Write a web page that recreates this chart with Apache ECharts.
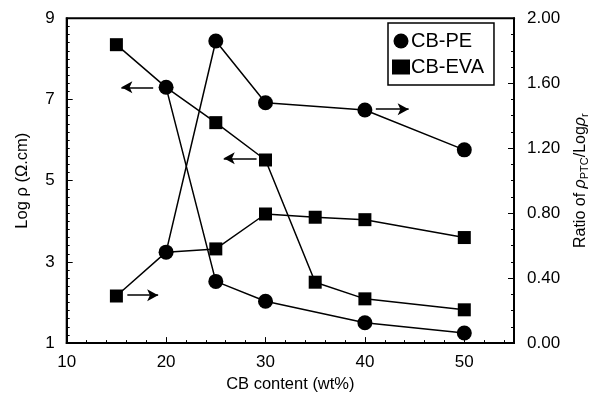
<!DOCTYPE html>
<html><head><meta charset="utf-8">
<script src="https://cdn.jsdelivr.net/npm/echarts@6/dist/echarts.min.js"></script>
<style>html,body{margin:0;padding:0;background:#fff}#c{width:598px;height:398px}</style>
</head><body><div id="c"></div>
<script>
// CB content (wt%)
const pePoints = [20, 25, 30, 40, 50];
const evaPoints = [15, 20, 25, 30, 35, 40, 50];
// Log rho (left axis)
const peLogRho = [7.30, 2.52, 2.03, 1.50, 1.25];
const evaLogRho = [8.35, 7.30, 6.43, 5.51, 2.50, 2.09, 1.82];
// Ratio (right axis)
const peRatio = [0.56, 1.86, 1.48, 1.435, 1.19];
const evaRatio = [0.29, 0.56, 0.58, 0.795, 0.775, 0.76, 0.65];
// Arrow annotations [x from, x to (head), y]
const leftArrows = [[18.7, 15.5, 7.30], [29.1, 25.8, 5.55]];
const rightArrows = [[16.1, 19.2, 0.295], [41.1, 44.4, 1.44]];
const xTicks = {min: 10, max: 55, interval: 10};
const leftTicks = {min: 1, max: 9, interval: 2};
const rightTicks = {min: 0, max: 2, interval: 0.4};

// EVA points that sit under a CB-PE circle are drawn without their own marker
const zipEva = (xs, ys) => xs.map((x, i) => pePoints.includes(x) && (x === 20)
  ? {value: [x, ys[i]], symbol: 'none'} : [x, ys[i]]);
const zip = (xs, ys) => xs.map((x, i) => [x, ys[i]]);
const arrowData = arr => arr.map(a => [{coord: [a[0], a[2]]}, {coord: [a[1], a[2]]}]);
const markLine = arr => ({
  silent: true, symbol: ['none', 'arrow'], symbolSize: [9, 11],
  label: {show: false}, lineStyle: {color: '#000', width: 1.5, type: 'solid'},
  emphasis: {disabled: true}, data: arrowData(arr)
});
const font = 'Arial, "Liberation Sans", sans-serif';
const lineStyle = {color: '#000', width: 1.5};
const axisCommon = {
  axisLine: {show: true, lineStyle: {color: '#000', width: 2}},
  axisTick: {show: true, inside: true, length: 6, lineStyle: {color: '#000', width: 1}},
  minorTick: {show: true, length: 3, lineStyle: {color: '#000', width: 1}},
  splitLine: {show: false},
  axisLabel: {color: '#000', fontSize: 17, fontFamily: font},
  nameTextStyle: {color: '#000', fontSize: 16.5, fontFamily: font},
  nameLocation: 'middle'
};
const chart = echarts.init(document.getElementById('c'), null, {renderer: 'canvas'});
chart.setOption({
  animation: false,
  backgroundColor: '#fff',
  grid: {left: 66.7, right: 81.3, top: 18.3, bottom: 54.7, show: true, borderColor: '#000', borderWidth: 2},
  legend: {
    orient: 'vertical', left: 388, top: 23, width: 110,
    padding: [8, 10, 8, 4], itemGap: 6, itemWidth: 18, itemHeight: 15,
    borderColor: '#000', borderWidth: 1.5, backgroundColor: '#fff',
    textStyle: {color: '#000', fontSize: 20, fontFamily: font, padding: [0, 0, 0, -4]},
    data: [{name: 'CB-PE', icon: 'circle'}, {name: 'CB-EVA', icon: 'rect'}]
  },
  xAxis: Object.assign({}, axisCommon, {
    type: 'value', min: xTicks.min, max: xTicks.max, interval: xTicks.interval,
    minorTick: Object.assign({}, axisCommon.minorTick, {splitNumber: 5}),
    axisLabel: Object.assign({}, axisCommon.axisLabel, {showMaxLabel: false, margin: 11}),
    name: 'CB content (wt%)', nameGap: 31
  }),
  yAxis: [
    Object.assign({}, axisCommon, {
      type: 'value', min: leftTicks.min, max: leftTicks.max, interval: leftTicks.interval,
      minorTick: Object.assign({}, axisCommon.minorTick, {splitNumber: 10}),
      axisLabel: Object.assign({}, axisCommon.axisLabel, {margin: 12}),
      name: 'Log ρ (Ω.cm)', nameGap: 36
    }),
    Object.assign({}, axisCommon, {
      type: 'value', position: 'right', min: rightTicks.min, max: rightTicks.max, interval: rightTicks.interval,
      minorTick: Object.assign({}, axisCommon.minorTick, {splitNumber: 4}),
      axisLabel: Object.assign({}, axisCommon.axisLabel, {margin: 13, formatter: v => v.toFixed(2)}),
      name: '{a|Ratio of }{i|ρ}{s|PTC}{a|/Log}{i|ρ}{s|r}', nameGap: 57,
      nameTextStyle: {color: '#000', fontSize: 16, fontFamily: font, rich: {
        a: {fontSize: 16, fontFamily: font, color: '#000'},
        i: {fontSize: 16, fontFamily: font, fontStyle: 'italic', color: '#000'},
        s: {fontSize: 11, fontFamily: font, color: '#000', verticalAlign: 'bottom', padding: [8, 0, 0, 0]}
      }}
    })
  ],
  series: [
    {name: 'CB-EVA', type: 'line', yAxisIndex: 0, data: zipEva(evaPoints, evaLogRho),
      symbol: 'rect', symbolSize: 13, itemStyle: {color: '#000'}, lineStyle, z: 2, markLine: markLine(leftArrows)},
    {name: 'CB-EVA', type: 'line', yAxisIndex: 1, data: zipEva(evaPoints, evaRatio),
      symbol: 'rect', symbolSize: 13, itemStyle: {color: '#000'}, lineStyle, z: 2, markLine: markLine(rightArrows)},
    {name: 'CB-PE', type: 'line', yAxisIndex: 0, data: zip(pePoints, peLogRho),
      symbol: 'circle', symbolSize: 15, itemStyle: {color: '#000'}, lineStyle, z: 3},
    {name: 'CB-PE', type: 'line', yAxisIndex: 1, data: zip(pePoints, peRatio),
      symbol: 'circle', symbolSize: 15, itemStyle: {color: '#000'}, lineStyle, z: 3}
  ]
});
</script></body></html>
